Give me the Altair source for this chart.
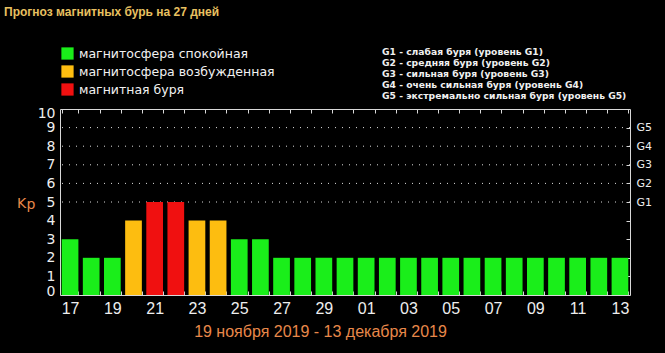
import altair as alt
import pandas as pd

# ---- data ----
days = ["17", "18", "19", "20", "21", "22", "23", "24", "25", "26", "27", "28", "29", "30",
        "01", "02", "03", "04", "05", "06", "07", "08", "09", "10", "11", "12", "13"]
kp = [3, 2, 2, 4, 5, 5, 4, 4, 3, 3, 2, 2, 2, 2,
      2, 2, 2, 2, 2, 2, 2, 2, 2, 2, 2, 2, 2]
status = ["магнитосфера спокойная", "магнитосфера спокойная", "магнитосфера спокойная",
          "магнитосфера возбужденная", "магнитная буря", "магнитная буря",
          "магнитосфера возбужденная", "магнитосфера возбужденная",
          "магнитосфера спокойная", "магнитосфера спокойная", "магнитосфера спокойная",
          "магнитосфера спокойная", "магнитосфера спокойная", "магнитосфера спокойная",
          "магнитосфера спокойная", "магнитосфера спокойная", "магнитосфера спокойная",
          "магнитосфера спокойная", "магнитосфера спокойная", "магнитосфера спокойная",
          "магнитосфера спокойная", "магнитосфера спокойная", "магнитосфера спокойная",
          "магнитосфера спокойная", "магнитосфера спокойная", "магнитосфера спокойная",
          "магнитосфера спокойная"]
label_days = ["17", "19", "21", "23", "25", "27", "29", "01", "03", "05", "07", "09", "11", "13"]
status_names = ["магнитосфера спокойная", "магнитосфера возбужденная", "магнитная буря"]
status_colors = ["#1aee1a", "#fdbd10", "#f01010"]
grid_levels = [5, 6, 7, 8, 9]
right_ticks = [1, 2, 3, 4, 5, 6, 7, 8, 9]
left_ticks = [0, 1, 2, 3, 4, 5, 6, 7, 8, 9, 10]
g_lines = ["G1 - слабая буря (уровень G1)",
           "G2 - средняя буря (уровень G2)",
           "G3 - сильная буря (уровень G3)",
           "G4 - очень сильная буря (уровень G4)",
           "G5 - экстремально сильная буря (уровень G5)"]
chart_title = "Прогноз магнитных бурь на 27 дней"
period = "19 ноября 2019 - 13 декабря 2019"

df = pd.DataFrame({"day": days, "kp": kp, "status": status})
gdf = pd.DataFrame({"level": grid_levels})
one = pd.DataFrame({"a": [0]})

ORANGE = "#e8884a"
TICK = "#d8d8d8"
label_list = "[" + ",".join("'%s'" % d for d in label_days) + "]"

xscale = alt.Scale(paddingInner=0.21, paddingOuter=0.08)
yscale = alt.Scale(domain=[0, 10], nice=False)

grid = alt.Chart(gdf).mark_rule(color="#dddddd", strokeDash=[1, 6], strokeWidth=1).encode(
    y=alt.Y("level:Q", scale=yscale,
            axis=alt.Axis(orient="right", values=right_ticks, offset=-4, tickSize=4,
                          tickColor=TICK, domain=False, grid=False, labelOverlap=False,
                          labelExpr="datum.value >= 5 ? 'G' + (datum.value - 4) : ''",
                          labelFont="DejaVu Sans", labelFontSize=11, labelColor="#eeeeee",
                          labelPadding=6, title=None))
)

bars = alt.Chart(df).mark_bar().encode(
    x=alt.X("day:N", sort=days, scale=xscale,
            axis=alt.Axis(orient="bottom", offset=-4, tickSize=4, tickColor=TICK,
                          tickBand="extent", domain=False, labelOverlap=False,
                          labelExpr="indexof(%s, datum.value) >= 0 ? datum.label : ''" % label_list,
                          labelAngle=0, labelFont="Liberation Sans", labelFontSize=16,
                          labelColor="#eeeeee", labelPadding=5,
                          title=period, titleFont="Liberation Sans", titleFontSize=16,
                          titleFontWeight="normal", titleColor=ORANGE, titleX=260, titleY=45,
                          titleAlign="center", titleBaseline="alphabetic")),
    y=alt.Y("kp:Q", scale=yscale,
            axis=alt.Axis(orient="left", values=left_ticks, ticks=False, domain=False,
                          grid=False, labelFlush=True, labelFlushOffset=3,
                          labelOverlap=False, labelFont="DejaVu Sans",
                          labelFontSize=14, labelColor="#eeeeee", labelPadding=5, title=None)),
    color=alt.Color("status:N", scale=alt.Scale(domain=status_names, range=status_colors),
                    legend=alt.Legend(orient="none", legendX=1, legendY=-62, title=None,
                                      symbolType="square", symbolSize=150,
                                      symbolStrokeWidth=0, symbolOpacity=1,
                                      labelColor="#f2f2f2", labelFont="DejaVu Sans",
                                      labelFontSize=12.5, labelOffset=5, rowPadding=5,
                                      labelLimit=0, padding=0))
)

top_ticks = alt.Chart(df).mark_bar(opacity=0).encode(
    x=alt.X("day:N", sort=days, scale=xscale,
            axis=alt.Axis(orient="top", offset=-4, tickSize=4, tickColor=TICK,
                          tickBand="extent", domain=False, labels=False, title=None)),
    y=alt.Y("kp:Q", scale=yscale, axis=None)
)

title_text = alt.Chart(one).mark_text(
    align="left", baseline="alphabetic", font="Liberation Sans", fontSize=12,
    fontWeight="bold", color="#e8c060"
).encode(x=alt.value(-56), y=alt.value(-93), text=alt.value(chart_title))

g_text = alt.Chart(one).mark_text(
    align="left", baseline="alphabetic", font="DejaVu Sans", fontSize=9.2,
    fontWeight="bold", color="#f0f0f0", lineHeight=11
).encode(x=alt.value(322), y=alt.value(-54), text=alt.value(g_lines))

k_text = alt.Chart(one).mark_text(
    align="left", baseline="alphabetic", font="DejaVu Sans", fontSize=14, color=ORANGE
).encode(x=alt.value(-43), y=alt.value(99), text=alt.value("K"))

p_text = alt.Chart(one).mark_text(
    align="left", baseline="alphabetic", font="DejaVu Sans", fontSize=14, color=ORANGE
).encode(x=alt.value(-33.5), y=alt.value(100), text=alt.value("p"))

chart = alt.layer(grid, bars, top_ticks, title_text, g_text, k_text, p_text).resolve_axis(
    x="independent", y="independent"
).properties(
    width=570, height=186, background="black",
    padding={"left": 60, "top": 109, "right": 35, "bottom": 58},
    autosize=alt.AutoSizeParams(type="none")
).configure_view(stroke="#d8d8d8", strokeWidth=1)

chart.save("out.html", embed_options={"renderer": "svg", "actions": False})
